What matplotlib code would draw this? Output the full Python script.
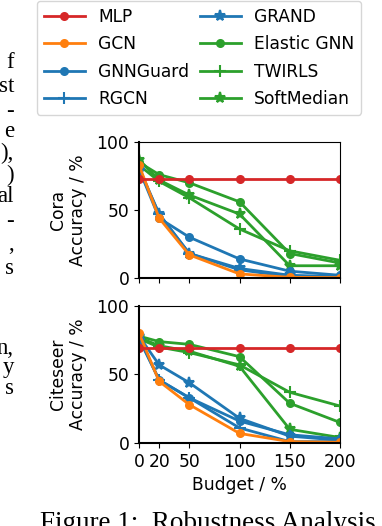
import matplotlib
matplotlib.use('Agg')
import matplotlib.pyplot as plt

# Budget values (x axis)
budget = [0, 20, 50, 100, 150, 200]

# Accuracy (%) on Cora
cora_mlp = [73, 73, 73, 73, 73, 73]
cora_gcn = [83, 44, 17, 3, 0.5, 0.3]
cora_gnnguard = [80, 44, 30, 14, 5, 2]
cora_rgcn = [80, 47, 18, 6, 1, 1]
cora_grand = [81, 47, 18, 7, 2, 1]
cora_elastic = [85, 76, 70, 56, 18, 11]
cora_twirls = [83, 71, 59, 36, 20, 13]
cora_softmedian = [87, 72, 61, 47, 9, 9]

# Accuracy (%) on Citeseer
cite_mlp = [69, 69, 69, 69, 69, 69]
cite_gcn = [80, 45, 28, 7, 1, 0.5]
cite_gnnguard = [77, 46, 33, 16, 6, 3]
cite_rgcn = [76, 46, 33, 11, 1, 1]
cite_grand = [78, 57, 44, 18, 5, 2]
cite_elastic = [78, 74, 72, 63, 29, 15]
cite_twirls = [76, 70, 66, 57, 37, 27]
cite_softmedian = [77, 71, 67, 56, 10, 4]

model_names = ['MLP', 'GCN', 'GNNGuard', 'RGCN', 'GRAND', 'Elastic GNN', 'TWIRLS', 'SoftMedian']
colors = ['tab:red', 'tab:orange', 'tab:blue', 'tab:blue', 'tab:blue', 'tab:green', 'tab:green', 'tab:green']
markers = ['o', 'o', 'o', '+', '*', 'o', '+', '*']
msizes = [5, 5, 5, 9, 8, 5, 9, 8]

cora = [cora_mlp, cora_gcn, cora_gnnguard, cora_rgcn, cora_grand, cora_elastic, cora_twirls, cora_softmedian]
cite = [cite_mlp, cite_gcn, cite_gnnguard, cite_rgcn, cite_grand, cite_elastic, cite_twirls, cite_softmedian]

plt.rcParams['font.size'] = 12.3

fig = plt.figure(figsize=(3.82, 5.26), dpi=100)
ax1 = fig.add_axes([0.364, 0.4715, 0.526, 0.2586])
ax2 = fig.add_axes([0.364, 0.1578, 0.526, 0.2605])

handles = []
for ax, data, name in [(ax1, cora, 'Cora'), (ax2, cite, 'Citeseer')]:
    hs = []
    # draw in reverse so MLP and GCN end up on top
    for i in reversed(range(len(model_names))):
        h, = ax.plot(budget, data[i], color=colors[i], marker=markers[i], markersize=msizes[i],
                     markeredgewidth=1.5, linewidth=2, label=model_names[i])
        hs.append(h)
    handles = hs[::-1]
    ax.set_xlim(0, 200)
    ax.set_ylim(0, 100)
    ax.set_xticks(budget)
    ax.set_yticks([0, 50, 100])
    ax.set_ylabel(name + '\nAccuracy / %', labelpad=7, linespacing=1.1)
    for s in ['left', 'bottom']:
        ax.spines[s].set_linewidth(1.5)

ax1.set_xticklabels([])
ax2.set_xticklabels(['0', '20', '50', '100', '150', '200'])
ax2.set_xlabel('Budget / %')

fig.legend(handles, model_names, ncol=2, loc='upper center', bbox_to_anchor=(0.521, 0.998),
           handlelength=2.4, handletextpad=0.8, columnspacing=0.6, labelspacing=0.55,
           borderpad=0.4, borderaxespad=0, fontsize=12.3)

# caption and fragments of the surrounding paper text
fig.text(40 / 382, 1 - 530 / 526, 'Figure 1:  Robustness Analysis', family='Liberation Serif',
         fontsize=19.5, va='baseline', ha='left')
frags = [('f', 63), ('st', 87), ('-', 112), ('e', 132), ('),', 153), (')', 175), ('al', 197),
         ('-', 222), (',', 245), ('s', 268), ('n,', 348), ('y', 368), ('s', 388)]
for t, y in frags:
    fig.text(14 / 382, 1 - y / 526, t, family='Liberation Serif', fontsize=16.5, ha='right', va='center')

fig.savefig('out.png', dpi=100)
